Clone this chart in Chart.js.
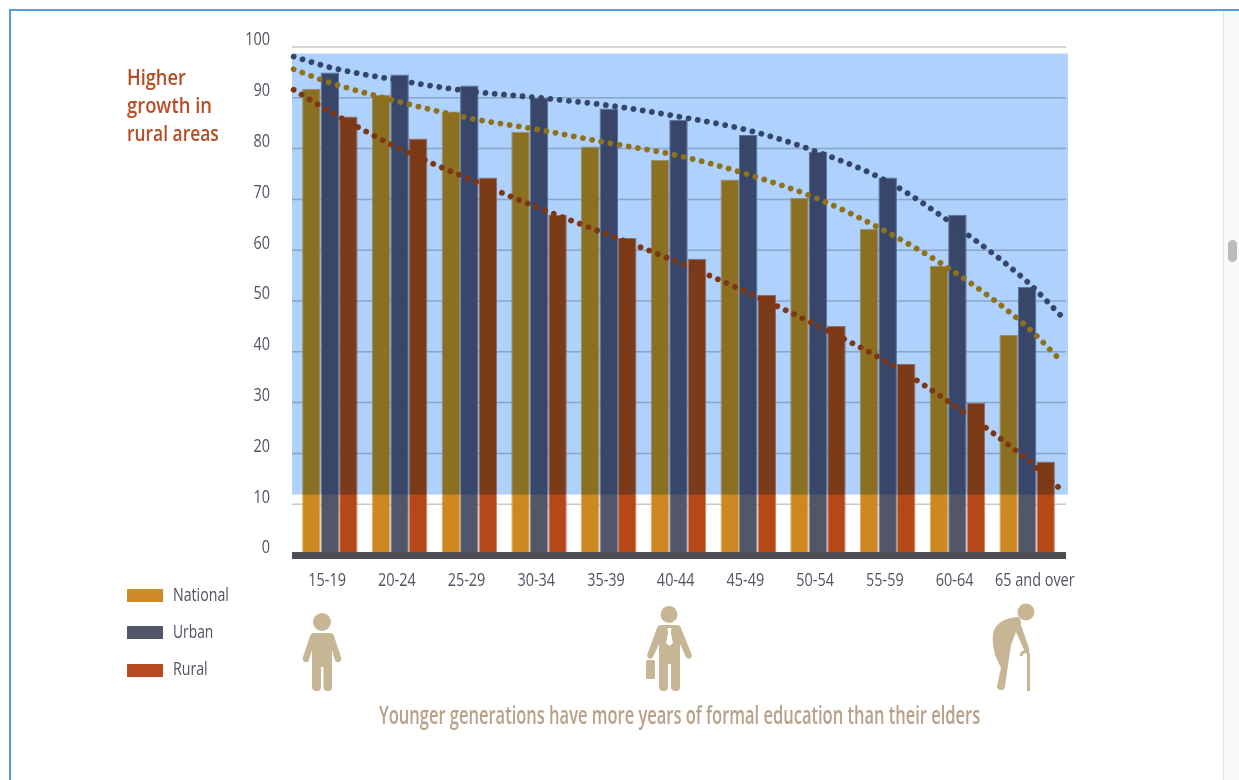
<!DOCTYPE html>
<html>
<head>
<meta charset="utf-8">
<title>Years of formal education by age group</title>
<script src="https://cdn.jsdelivr.net/npm/chart.js@4/dist/chart.umd.min.js"></script>
<style>
  html, body { margin: 0; padding: 0; width: 1239px; height: 780px; overflow: hidden; background: #fff; }
  body { position: relative; font-family: "Open Sans", sans-serif; }
  canvas#chart { position: absolute; left: 0; top: 0; }
  .frame-top { position: absolute; left: 9px; top: 9px; width: 1230px; height: 2px; background: #5b9bd5; }
  .frame-left { position: absolute; left: 9px; top: 9px; width: 2px; height: 771px; background: #5b9bd5; }
  .scroll-track { position: absolute; left: 1223px; top: 11px; width: 16px; height: 769px; background: #fafafa; border-left: 1px solid #e6e6e6; box-sizing: border-box; }
  .scroll-thumb { position: absolute; left: 1228px; top: 240px; width: 9px; height: 22px; border-radius: 5px; background: #bcbcbc; }
  .fit { display: inline-block; position: absolute; white-space: nowrap; transform-origin: left center; }
  .note { left: 127px; color: #b84c22; font-size: 21px; line-height: 28px; font-weight: 600; }
  .swatch { position: absolute; left: 127px; width: 36px; height: 13px; }
  .legend-text { left: 173px; font-size: 19px; line-height: 22px; font-weight: 500; color: #4f5260; }
  .caption { left: 379px; top: 699px; font-size: 25px; line-height: 30px; font-weight: 600; color: #b9a088; }
  svg.figures { position: absolute; left: 0; top: 0; }
</style>
</head>
<body>
<canvas id="chart" width="1239" height="780"></canvas>
<div class="frame-top"></div>
<div class="frame-left"></div>
<div class="scroll-track"></div>
<div class="scroll-thumb"></div>

<div class="fit note" style="top:63px" data-width="59">Higher</div>
<div class="fit note" style="top:91px" data-width="85">growth in</div>
<div class="fit note" style="top:119px" data-width="92">rural areas</div>

<i class="swatch" style="top:589px;background:#ce8b2a"></i>
<div class="fit legend-text" style="top:583px" data-width="56">National</div>
<i class="swatch" style="top:626px;background:#515669"></i>
<div class="fit legend-text" style="top:620px" data-width="40">Urban</div>
<i class="swatch" style="top:664px;background:#b64a20"></i>
<div class="fit legend-text" style="top:657px" data-width="35">Rural</div>

<div class="fit caption" data-width="601">Younger generations have more years of formal education than their elders</div>

<svg class="figures" width="1239" height="780" fill="#c6b695">
  <!-- child -->
  <circle cx="322" cy="622" r="9"/>
  <path d="M314 633 H330 Q333 633 334 636 L341 657 Q342 661 339 662 Q336 663 335 660 L332 650 V687 Q332 691 328 691 Q323.500 691 323.500 687 V667 H321 V687 Q321 691 316.500 691 Q312 691 312 687 V650 L309 660 Q308 663 305 662 Q302 661 303 657 L310 636 Q311 633 314 633 Z"/>
  <!-- adult with briefcase -->
  <circle cx="669" cy="614.500" r="8.500"/>
  <path d="M661 625 H677 Q680 625 681 628 L691.500 654 Q692.500 657 690 658.500 Q687.500 659.500 686 657 L680 644 V687 Q680 691 676 691 Q671 691 671 687 V664 H668 V687 Q668 691 664 691 Q659 691 659 687 V644 L653 657 Q652 659.500 649 658.500 Q646.500 657 647.500 654 L657 628 Q658 625 661 625 Z"/>
  <rect x="646" y="660" width="9" height="19" rx="1.500"/>
  <path d="M667.500 628 H671.500 L671 633 L673 643 L669.500 646 L666 643 L668 633 Z" fill="#fff"/>
  <!-- elder with cane -->
  <circle cx="1026" cy="612" r="8.500"/>
  <path d="M1018 617 Q1000 618 994 630 Q991 640 995 655 L1001 668 L997 686 Q997 690 1001 690 Q1005 690 1005 686 L1008 665 L1011 645 L1016 632 L1025 652 Q1027 654 1029 652 Q1030 650 1029 648 L1021 625 Q1021 617 1018 617 Z"/>
  <path d="M1021 656 Q1022 651 1027 652 L1028.500 654 V691" fill="none" stroke="#c6b695" stroke-width="3"/>
</svg>

<script>
// Age groups and the share of each population group, in percent
const ageGroups = ['15-19', '20-24', '25-29', '30-34', '35-39', '40-44', '45-49', '50-54', '55-59', '60-64', '65 and over'];
const nationalValues = [91.8, 90.6, 87.3, 83.3, 80.4, 77.8, 73.9, 70.3, 64.2, 56.9, 43.3];
const urbanValues = [95.0, 94.6, 92.4, 90.0, 87.9, 85.7, 82.7, 79.4, 74.3, 67.0, 52.8];
const ruralValues = [86.3, 82.0, 74.3, 67.0, 62.4, 58.3, 51.2, 45.1, 37.6, 29.9, 18.4];

// Fitted trend curves, sampled along the age axis (position 0 is the first age group)
const trendPositions = [-0.52, 0, 1, 2, 3, 4, 5, 6, 7, 8, 9, 10, 10.5];
const nationalTrend = [95.6, 93.0, 89.2, 86.0, 83.7, 81.1, 78.6, 74.9, 70.1, 63.5, 55.3, 44.9, 38.0];
const urbanTrend = [98.1, 96.0, 93.4, 91.3, 90.0, 88.5, 86.3, 83.6, 79.3, 73.5, 64.5, 53.8, 46.9];
const ruralTrend = [91.6, 87.3, 80.0, 74.0, 68.3, 63.0, 57.6, 51.6, 45.1, 37.9, 29.0, 18.8, 12.7];

// Where each age label sits along the axis
const labelPositions = [-0.04, 0.96, 1.96, 2.96, 3.96, 4.96, 5.96, 6.96, 7.96, 8.96, 10.11];
const yTicks = [0, 10, 20, 30, 40, 50, 60, 70, 80, 90, 100];
const tintRange = [11.9, 98.7];

const overhang = 3;
const textColor = '#4f5260';
const labelFont = { family: '"Open Sans", sans-serif', size: 19, weight: '500' };
const labelCondense = 0.76;

// Linear scale whose tick labels are set in a horizontally condensed face
class CondensedScale extends Chart.LinearScale {
  static id = 'condensed';
  static defaults = Chart.LinearScale.defaults;
  drawLabels(chartArea) {
    const ctx = this.ctx;
    for (const item of this.getLabelItems(chartArea)) {
      const o = item.options;
      ctx.save();
      ctx.translate(o.translation[0], o.translation[1]);
      ctx.scale(labelCondense, 1);
      ctx.font = item.font.string;
      ctx.fillStyle = o.color;
      ctx.textAlign = o.textAlign;
      ctx.textBaseline = o.textBaseline;
      ctx.fillText(item.label, 0, item.textOffset);
      ctx.restore();
    }
  }
}
Chart.register(CondensedScale);

function barSeries(label, values, color, edge) {
  return {
    type: 'bar', label, order: 2,
    data: values.map((y, i) => ({ x: i, y })),
    backgroundColor: color, borderColor: edge,
    borderWidth: { left: 1, right: 1, top: 1, bottom: 0 },
    categoryPercentage: 0.796, barPercentage: 1
  };
}

function trendSeries(label, values, color) {
  return {
    type: 'line', label, order: 1,
    data: values.map((y, i) => ({ x: trendPositions[i], y })),
    clip: false,
    borderColor: color, borderWidth: 5.8,
    borderDash: [0.01, 9.3], borderCapStyle: 'round',
    cubicInterpolationMode: 'monotone', pointRadius: 0, fill: false
  };
}

// White page, extended grid lines, the tinted band and the heavy baseline
const chartDecor = {
  id: 'chartDecor',
  beforeDraw(chart) {
    const { ctx, width, height } = chart;
    ctx.save();
    ctx.fillStyle = '#fff';
    ctx.fillRect(0, 0, width, height);
    ctx.restore();
  },
  beforeDatasetsDraw(chart) {
    const { ctx, chartArea, scales } = chart;
    ctx.save();
    ctx.strokeStyle = '#c8c8c8';
    ctx.lineWidth = 1.5;
    yTicks.slice(1).forEach(v => {
      const y = scales.y.getPixelForValue(v);
      ctx.beginPath();
      ctx.moveTo(chartArea.left - overhang, y);
      ctx.lineTo(chartArea.right + overhang + 1, y);
      ctx.stroke();
    });
    ctx.restore();
  },
  beforeDatasetDraw(chart, args) {
    // Lines are painted last-index first, so this runs once the bars are down
    if (args.index !== chart.data.datasets.length - 1) return;
    const { ctx, chartArea, scales } = chart;
    const top = scales.y.getPixelForValue(tintRange[1]);
    const bottom = scales.y.getPixelForValue(tintRange[0]);
    ctx.save();
    ctx.globalCompositeOperation = 'multiply';
    ctx.fillStyle = '#aed1fe';
    ctx.fillRect(chartArea.left - overhang, top, chartArea.right - chartArea.left + overhang * 2 + 3, bottom - top);
    ctx.restore();
    const base = scales.y.getPixelForValue(0);
    ctx.save();
    ctx.fillStyle = '#4d4d52';
    ctx.fillRect(chartArea.left - overhang, base - 3, chartArea.right - chartArea.left + overhang * 2 + 1, 7);
    ctx.restore();
  }
};

new Chart(document.getElementById('chart'), {
  data: {
    datasets: [
      barSeries('National', nationalValues, '#cd8822', '#dcae6c'),
      barSeries('Urban', urbanValues, '#515669', '#858a99'),
      barSeries('Rural', ruralValues, '#b64818', '#cf8468'),
      trendSeries('National trend', nationalTrend, '#8f7118'),
      trendSeries('Urban trend', urbanTrend, '#364668'),
      trendSeries('Rural trend', ruralTrend, '#7e3712')
    ]
  },
  options: {
    responsive: false,
    animation: false,
    layout: { padding: { left: 235, right: 177, top: 47, bottom: 185 } },
    plugins: { legend: { display: false }, title: { display: false }, tooltip: { enabled: false } },
    scales: {
      x: {
        type: 'condensed',
        offset: false,
        min: -0.5, max: 10.5,
        afterBuildTicks(scale) { scale.ticks = labelPositions.map(value => ({ value })); },
        grid: { display: false, drawTicks: false },
        border: { display: false },
        ticks: {
          color: textColor, font: labelFont, padding: 14, maxRotation: 0, autoSkip: false,
          callback: (value, index) => ageGroups[index]
        },
        afterFit(scale) { scale.height = 40; }
      },
      y: {
        type: 'condensed',
        min: 0, max: 100,
        afterBuildTicks(scale) { scale.ticks = yTicks.map(value => ({ value })); },
        grid: { display: false, drawTicks: false },
        border: { display: false },
        ticks: { color: textColor, font: labelFont, padding: 25, labelOffset: -7, callback: value => String(value) },
        afterFit(scale) { scale.width = 60; }
      }
    }
  },
  plugins: [chartDecor]
});

// Condense the page text to its set width
document.querySelectorAll('.fit').forEach(el => {
  el.style.transform = 'scaleX(' + (Number(el.dataset.width) / el.offsetWidth) + ')';
});
</script>
</body>
</html>
